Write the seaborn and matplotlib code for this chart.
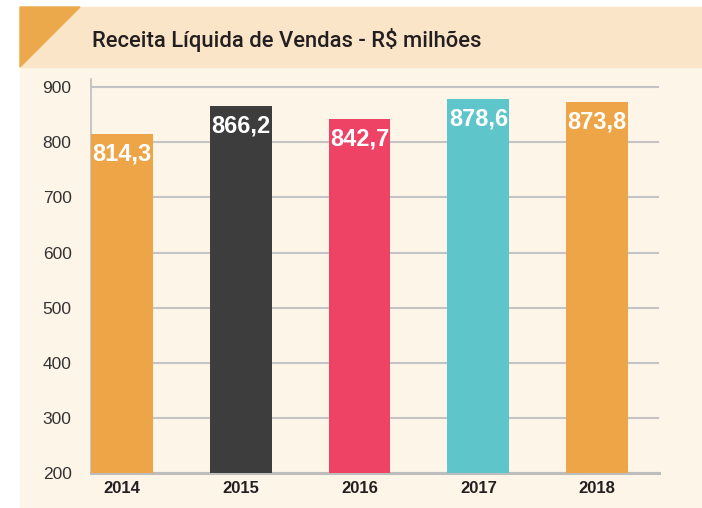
import matplotlib
matplotlib.use("Agg")
import matplotlib.pyplot as plt
import seaborn as sns
from matplotlib.patches import Rectangle, Polygon

# dados
anos = ["2014", "2015", "2016", "2017", "2018"]
receita = [814.3, 866.2, 842.7, 878.6, 873.8]
cores = ["#EDA547", "#3D3D3D", "#EF4366", "#5EC6CA", "#EDA547"]
yticks = [200, 300, 400, 500, 600, 700, 800, 900]
titulo = "Receita Líquida de Vendas - R$ milhões"

sns.set_style("white")
plt.rcParams["font.family"] = ["Liberation Sans", "DejaVu Sans"]

fig = plt.figure(figsize=(7.02, 5.08), dpi=100)
W, H = 702, 508

# fundo creme + faixa do título + triângulo laranja
fig.patches.append(Rectangle((20 / W, 0), 1 - 20 / W, 1 - 67 / H,
                             transform=fig.transFigure, color="#FEF5E9", zorder=-10))
fig.patches.append(Rectangle((20 / W, 1 - 67 / H), 1 - 20 / W, 60 / H,
                             transform=fig.transFigure, color="#FBE5C8", zorder=-10))
fig.patches.append(Polygon([(20 / W, 1 - 7 / H), (80 / W, 1 - 7 / H), (20 / W, 1 - 67 / H)],
                           closed=True, transform=fig.transFigure, color="#EBA94B", zorder=-9))
fig.text(92 / W, 1 - 40 / H, titulo, fontsize=15.8, color="#231F20",
         family=["Roboto", "DejaVu Sans"], fontweight="medium", va="center", ha="left")

ax = fig.add_axes([91 / W, 1 - 473 / H, (659 - 91) / W, (473 - 79) / H])
ax.set_zorder(5)
ax.set_facecolor("none")

sns.barplot(x=anos, y=receita, hue=anos, palette=cores, width=0.52,
            legend=False, saturation=1, linewidth=0, ax=ax, zorder=3)

ax.set_ylim(200, 915)
ax.set_xlim(-0.26, 4.52)
ax.set_yticks(yticks)
ax.yaxis.grid(True, color="#C4C4C4", linewidth=1.5, zorder=0)
ax.set_axisbelow(True)

for s in ["top", "right"]:
    ax.spines[s].set_visible(False)
ax.spines["left"].set_color("#BDBDBD")
ax.spines["left"].set_linewidth(1.2)
ax.spines["bottom"].set_color("#BDBDBD")
ax.spines["bottom"].set_linewidth(2.2)

ax.tick_params(axis="y", length=0, pad=14, labelsize=12.5, labelcolor="#333333")
ax.tick_params(axis="x", length=0, pad=6, labelsize=12, labelcolor="#231F20")
for lbl in ax.get_xticklabels():
    lbl.set_fontweight("bold")
ax.set_xlabel("")
ax.set_ylabel("")

for i, v in enumerate(receita):
    ax.annotate(f"{v:.1f}".replace(".", ","), (i, v), xytext=(0, -6),
                textcoords="offset points", ha="center", va="top",
                color="white", fontsize=17, fontweight="bold", zorder=5)

fig.savefig("out.png", dpi=100)
